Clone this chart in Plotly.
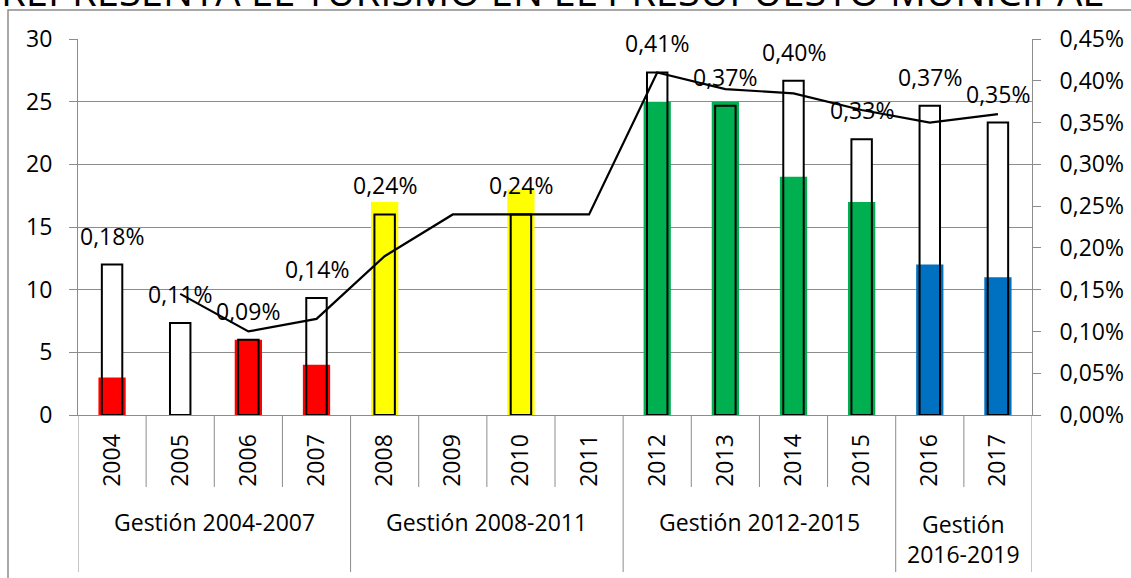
import plotly.graph_objects as go

# categorias (años) y gestiones municipales
years = ["2004", "2005", "2006", "2007", "2008", "2009", "2010",
         "2011", "2012", "2013", "2014", "2015", "2016", "2017"]
gestiones = ["Gestión 2004-2007", "Gestión 2008-2011", "Gestión 2012-2015", "Gestión<br>2016-2019"]
years_per_gestion = [4, 4, 4, 2]
gestion_colors = ["#FF0000", "#FFFF00", "#00B050", "#0070C0"]

# eje izquierdo
monto_turismo = [3, None, 6, 4, 17, None, 18, None, 25, 25, 19, 17, 12, 11]
left_ticks = [0, 5, 10, 15, 20, 25, 30]
# eje derecho (% del presupuesto)
porcentaje = [0.18, 0.11, 0.09, 0.14, 0.24, None, 0.24, None, 0.41, 0.37, 0.40, 0.33, 0.37, 0.35]
right_ticks = [0, 0.05, 0.10, 0.15, 0.20, 0.25, 0.30, 0.35, 0.40, 0.45]
# linea de tendencia (media movil, 2 periodos)
media_movil_years = ["2005", "2006", "2007", "2008", "2009", "2010", "2011",
                     "2012", "2013", "2014", "2015", "2016", "2017"]
media_movil = [0.145, 0.10, 0.115, 0.19, 0.24, 0.24, 0.24, 0.41, 0.39, 0.385, 0.365, 0.35, 0.36]

title_text = "REPRESENTA EL TURISMO EN EL PRESUPUESTO MUNICIPAL"

FONT = "Open Sans"
GRAY = "#8c8c8c"

# pixel geometry of the plot area (1131 x 578 page)
W, H = 1131, 578
L, R, T, B = 78, 99, 39, 163
PW, PH = W - L - R, H - T - B


def px_x(px):
    return (px - L) / PW


def px_y(py):
    return (H - B - py) / PH


def pct_label(value):
    return f"{value:.2f}".replace(".", ",") + "%"


bar_colors = [c for c, n in zip(gestion_colors, years_per_gestion) for _ in range(n)]

fig = go.Figure()
# white fill of the percentage bars (behind the coloured bars)
fig.add_trace(go.Bar(
    x=years, y=porcentaje, yaxis="y", width=0.3,
    marker={"color": "white", "line": {"width": 0}},
    hoverinfo="skip",
))
fig.add_trace(go.Bar(
    x=years, y=monto_turismo, yaxis="y2", width=0.4, name="Turismo",
    marker={"color": bar_colors, "line": {"width": 0}},
))
# outline of the percentage bars (on top)
fig.add_trace(go.Bar(
    x=years, y=porcentaje, yaxis="y3", width=0.3, name="% del presupuesto",
    marker={"color": "rgba(0,0,0,0)", "line": {"color": "black", "width": 2}},
))
fig.add_trace(go.Scatter(
    x=media_movil_years, y=media_movil, yaxis="y3", mode="lines",
    line={"color": "black", "width": 2.2}, name="Media móvil",
))

# data labels (category index used as x position)
for i, val in enumerate(porcentaje):
    if val is None:
        continue
    fig.add_annotation(
        x=i, y=val, xref="x", yref="y", yanchor="middle", yshift=29,
        text=pct_label(val), showarrow=False,
        font={"family": FONT, "size": 23, "color": "black"},
    )

# category separators and gestion labels
boundary = 0
n_cat = len(years)
for label, n in zip(gestiones, years_per_gestion):
    fig.add_shape(type="line", xref="x", yref="paper",
                  x0=boundary - 0.5, x1=boundary - 0.5, y0=0, y1=px_y(572),
                  line={"color": GRAY, "width": 1})
    for k in range(1, n):
        fig.add_shape(type="line", xref="x", yref="paper",
                      x0=boundary + k - 0.5, x1=boundary + k - 0.5, y0=0, y1=px_y(487),
                      line={"color": GRAY, "width": 1})
    two_lines = "<br>" in label
    fig.add_annotation(
        x=boundary + (n - 1) / 2, xref="x", y=px_y(539 if two_lines else 522), yref="paper",
        text=label, showarrow=False, yanchor="middle",
        font={"family": FONT, "size": 23, "color": "black"},
    )
    boundary += n
fig.add_shape(type="line", xref="x", yref="paper",
              x0=n_cat - 0.5, x1=n_cat - 0.5, y0=0, y1=px_y(572),
              line={"color": GRAY, "width": 1})

# outer chart frame
fig.add_shape(type="rect", xref="paper", yref="paper",
              x0=px_x(8), x1=px_x(1145), y0=px_y(595), y1=px_y(10),
              line={"color": GRAY, "width": 1.5}, layer="below")

# title (cut off at the top edge as in the source)
fig.add_annotation(
    x=px_x(552), y=px_y(20), xref="paper", yref="paper", yanchor="bottom",
    text=title_text, showarrow=False,
    font={"family": FONT, "size": 40, "color": "black"},
)

tick_font = {"family": FONT, "size": 23, "color": "black"}
fig.update_layout(
    width=W, height=H,
    margin={"l": L, "r": R, "t": T, "b": B, "autoexpand": False},
    paper_bgcolor="white", plot_bgcolor="white",
    barmode="overlay", showlegend=False,
    separators=",.",
    xaxis={
        "type": "category", "range": [-0.5, n_cat - 0.5],
        "showline": True, "linecolor": GRAY, "linewidth": 1,
        "ticks": "", "tickangle": -90, "tickfont": tick_font,
        "showgrid": False, "zeroline": False, "ticklabelstandoff": 9,
    },
    yaxis={
        "range": [0, 0.45], "side": "right", "tickmode": "array",
        "tickvals": right_ticks, "ticktext": [pct_label(v) for v in right_ticks],
        "showgrid": False, "zeroline": False,
        "showline": True, "linecolor": GRAY, "ticks": "outside", "ticklen": 8,
        "tickcolor": GRAY, "tickfont": tick_font, "ticklabelstandoff": 14,
    },
    yaxis2={
        "range": [0, 30], "overlaying": "y", "side": "left",
        "tickmode": "array", "tickvals": left_ticks,
        "showgrid": True, "gridcolor": GRAY, "gridwidth": 1, "zeroline": False,
        "showline": True, "linecolor": GRAY, "ticks": "outside", "ticklen": 8,
        "tickcolor": GRAY, "tickfont": tick_font, "ticklabelstandoff": 12,
    },
    yaxis3={"range": [0, 0.45], "overlaying": "y", "visible": False},
)

# the page body has a default 8px margin; drop it so the figure fills the window
fig.write_html(
    "out.html",
    config={"displayModeBar": False},
    post_script="document.body.style.margin = '0';",
)
